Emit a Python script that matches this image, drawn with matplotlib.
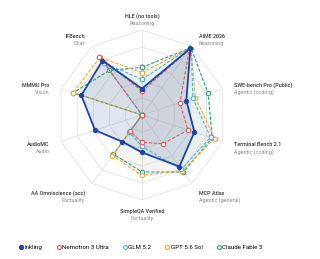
import numpy as np
import matplotlib
matplotlib.use('Agg')
import matplotlib.pyplot as plt
from matplotlib.lines import Line2D

plt.rcParams['font.family'] = ['Roboto', 'DejaVu Sans']

# axis names and categories, clockwise from the top
names = ['HLE (no tools)', 'AIME 2026', 'SWE-bench Pro (Public)', 'Terminal Bench 2.1',
         'MCP Atlas', 'SimpleQA Verified', 'AA Omniscience (acc)', 'AudioMC',
         'MMMU Pro', 'IFBench']
cats = ['Reasoning', 'Reasoning', 'Agentic (coding)', 'Agentic (coding)',
        'Agentic (general)', 'Factuality', 'Factuality', 'Audio', 'Vision', 'Chat']

# normalised scores
inkling = [0.31, 0.97, 0.55, 0.65, 0.75, 0.44, 0.39, 0.58, 0.75, 0.79]
nemotron = [0.28, 0.95, 0.47, 0.57, 0.42, 0.32, 0.24, 0.0, 0.0, 0.85]
glm = [0.42, 0.99, 0.63, 0.85, 0.79, 0.37, 0.25, 0.0, 0.0, 0.76]
gpt = [0.50, 0.98, 0.66, 0.90, 0.81, 0.71, 0.59, 0.0, 0.85, 0.84]
claude = [0.56, 0.98, 0.82, 0.87, 0.83, 0.67, 0.57, 0.0, 0.85, 0.65]

n = len(names)
theta = np.arange(n) * 2 * np.pi / n
closed = np.append(theta, theta[0])

fig = plt.figure(figsize=(3.2, 2.59), dpi=100)
ax = fig.add_axes([0.178, 0.228, 0.531, 0.656], polar=True)
ax.set_theta_offset(np.pi / 2)
ax.set_theta_direction(-1)
ax.set_ylim(0, 1)
ax.grid(False)
ax.spines['polar'].set_visible(False)
ax.set_xticks([])
ax.set_yticks([])

# polygon grid
for r in [0.2, 0.4, 0.6, 0.8, 1.0]:
    ax.plot(closed, [r] * (n + 1), color='#e3e3e3', lw=0.6, zorder=0)
for t in theta:
    ax.plot([t, t], [0, 1], color='#e3e3e3', lw=0.6, zorder=0)

series = [
    ('Claude Fable 5', claude, '#2f9c84'),
    ('GPT 5.6 Sol', gpt, '#e6ad45'),
    ('GLM 5.2', glm, '#4fb3d6'),
    ('Nemotron 3 Ultra', nemotron, '#de5b5b'),
]
for label, vals, col in series:
    v = vals + vals[:1]
    ax.fill(closed, v, color=col, alpha=0.05, lw=0)
    ax.plot(closed, v, color=col, lw=0.8, ls=(0, (3, 1.5)), marker='o', ms=3.2,
            mfc='white', mec=col, mew=0.8, zorder=3)

v = inkling + inkling[:1]
ax.fill(closed, v, color='#3a5cb0', alpha=0.15, lw=0)
ax.plot(closed, v, color='#1d45a8', lw=1.3, marker='o', ms=2.8, zorder=4)

# axis labels: name centred on the anchor, category just below
for t, nm, ct in zip(theta, names, cats):
    deg = np.degrees(t) % 360
    if deg < 1 or abs(deg - 180) < 1:
        ha = 'center'
    elif deg < 180:
        ha = 'left'
    else:
        ha = 'right'
    r = 1.16 if deg < 1 else 1.14
    ax.annotate(nm, (t, r), xytext=(0, 0), textcoords='offset points',
                ha=ha, va='center', fontsize=3.9, color='#333333',
                fontweight='medium', annotation_clip=False)
    ax.annotate(ct, (t, r), xytext=(0, -5), textcoords='offset points',
                ha=ha, va='center', fontsize=3.9, color='#8a8a8a',
                annotation_clip=False)

handles = [Line2D([], [], ls='none', marker='o', ms=2.8, color='#1d45a8')]
labels = ['Inkling']
for label, vals, col in series[::-1]:
    handles.append(Line2D([], [], ls='none', marker='o', ms=2.8, mfc='white',
                          mec=col, mew=0.8))
    labels.append(label)
fig.legend(handles, labels, loc='center', bbox_to_anchor=(0.44, 0.044), ncol=5,
           frameon=False, fontsize=4.4, handletextpad=0.2, columnspacing=2.2,
           handlelength=0.8)

fig.savefig('out.png', dpi=100)
